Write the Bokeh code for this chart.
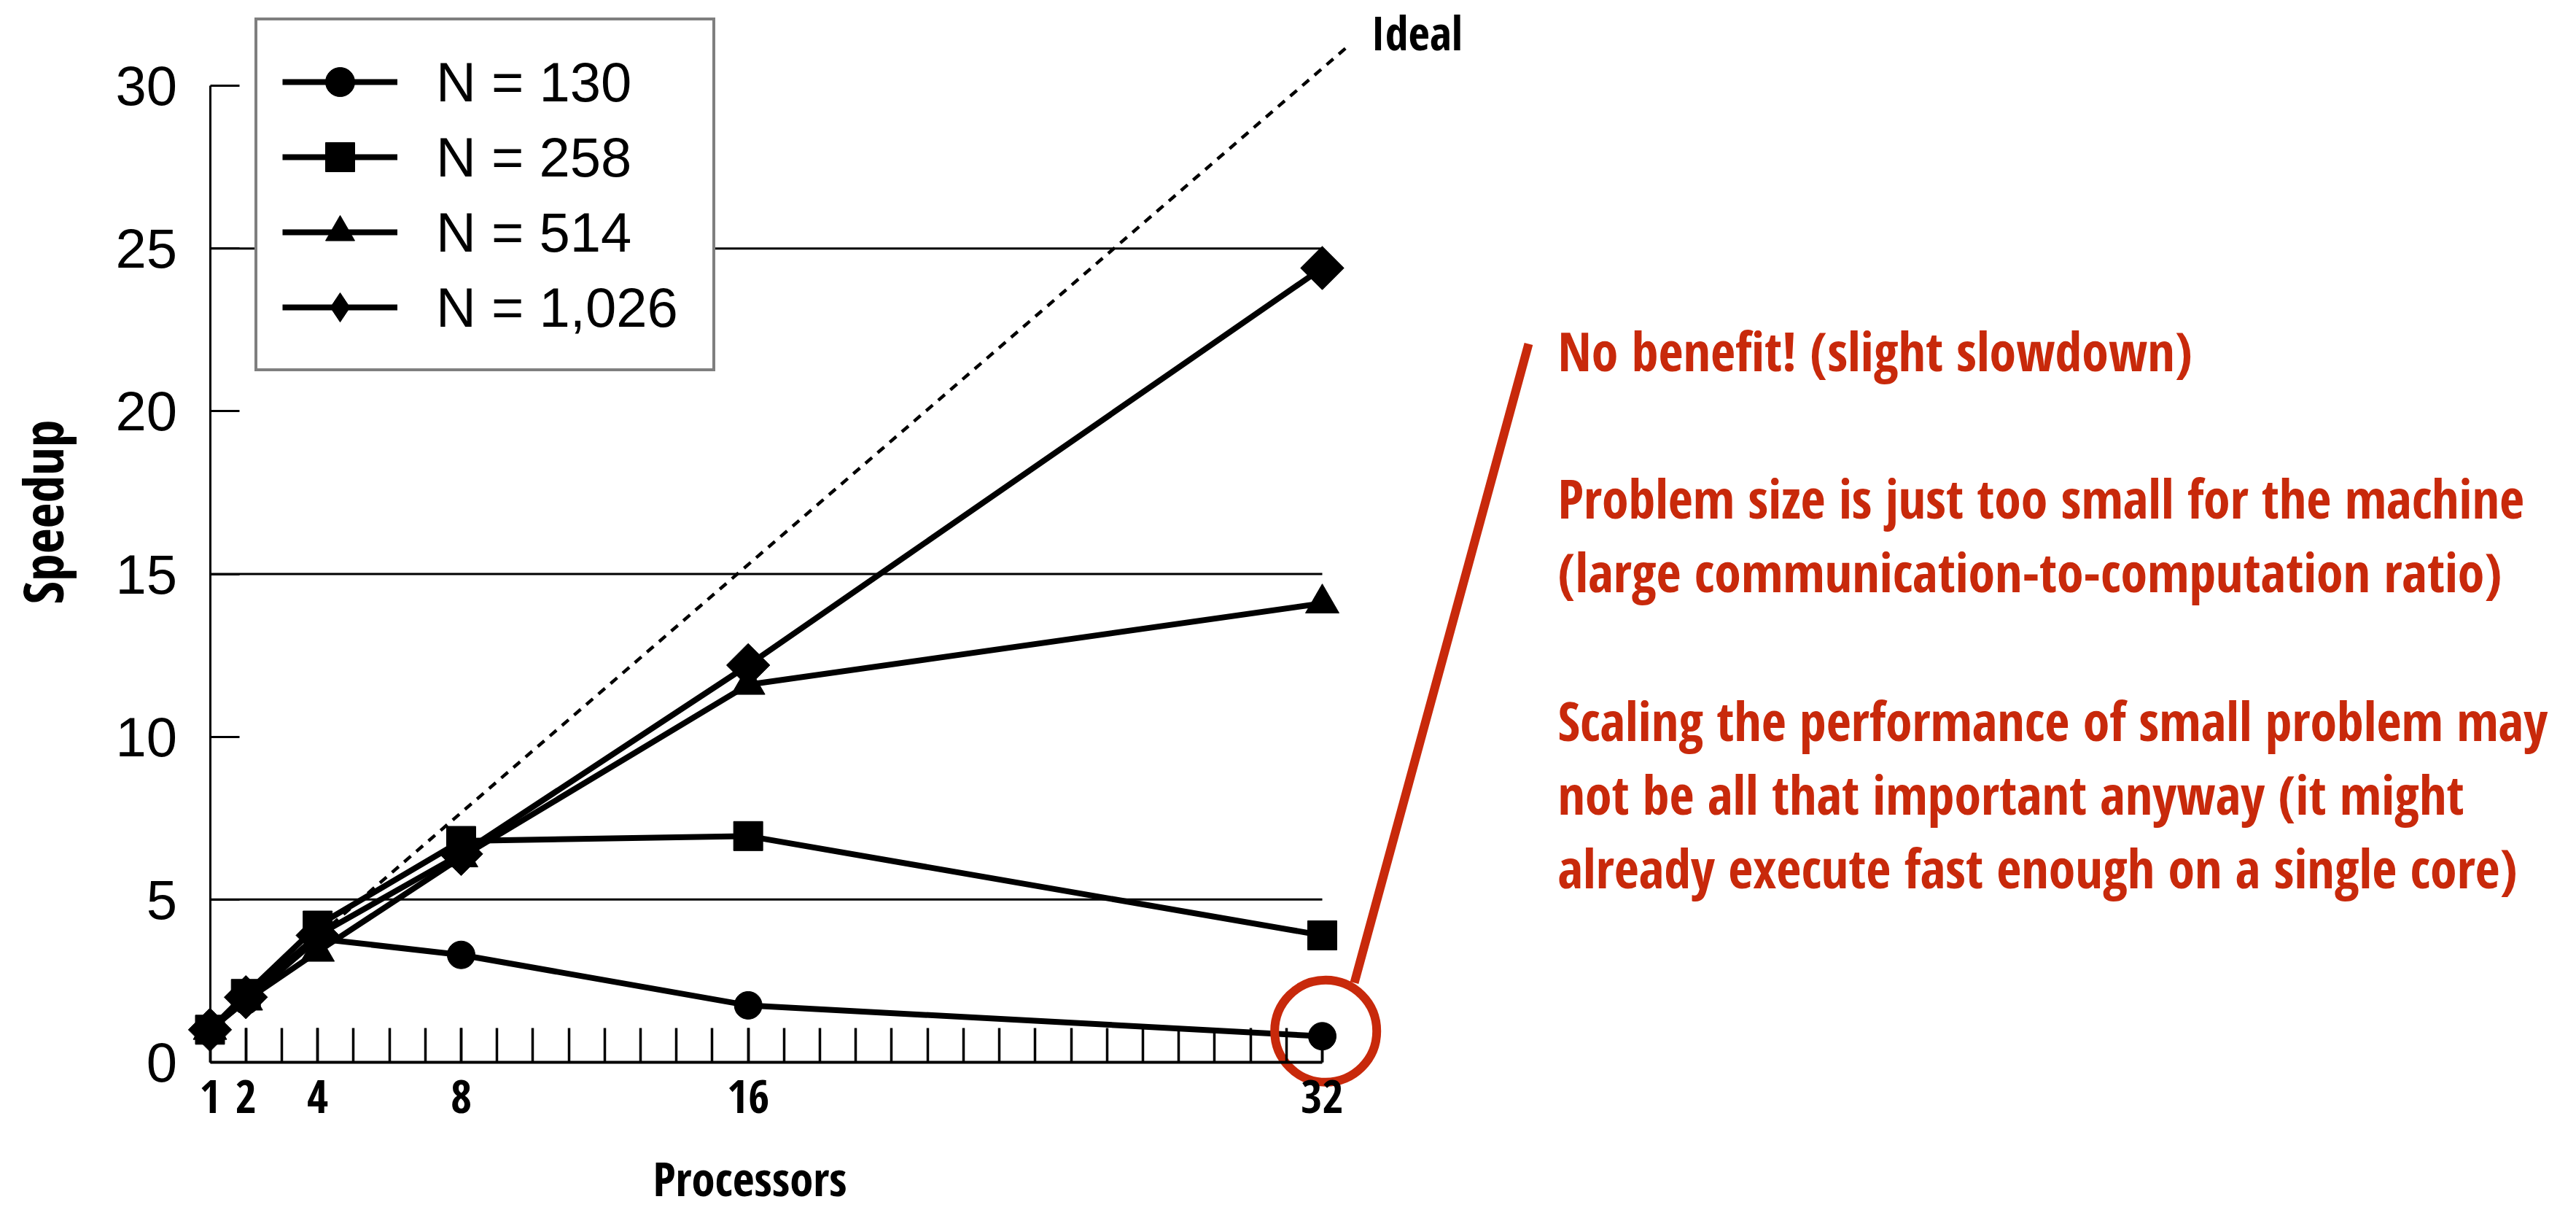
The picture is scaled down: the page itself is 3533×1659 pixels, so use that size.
import numpy as np
from bokeh.plotting import figure
from bokeh.models import Range1d, LinearAxis, FixedTicker, Legend, LegendItem, Label
from bokeh.embed import file_html
from bokeh.resources import INLINE

# ---------------- data ----------------
processors = [1, 2, 4, 8, 16, 32]
speedup_n130 = [1.0, 1.9, 3.8, 3.3, 1.75, 0.8]
speedup_n258 = [1.0, 2.1, 4.2, 6.8, 6.95, 3.9]
speedup_n514 = [1.0, 1.9, 3.4, 6.3, 11.6, 14.1]
speedup_n1026 = [1.0, 2.0, 3.9, 6.4, 12.2, 24.4]
ideal_procs = [1, 32.7]
ideal_speedup = [1.0, 31.2]
series_labels = ["N = 130", "N = 258", "N = 514", "N = 1,026"]
x_tick_values = [1, 2, 4, 8, 16, 32]
x_minor_values = list(range(1, 33))
y_tick_values = [0, 5, 10, 15, 20, 25, 30]
grid_levels = [5, 15, 25]
note_lines = [
    "No benefit! (slight slowdown)",
    "Problem size is just too small for the machine",
    "(large communication-to-computation ratio)",
    "Scaling the performance of small problem may",
    "not be all that important anyway (it might",
    "already execute fast enough on a single core)",
]

# ---------------- geometry ----------------
W, H = 3525, 1659
MARGIN = 0
X1_PAGE = 287.5     # page x of processors = 1
PXX = 49.21         # px per processor
Y0_PAGE = 1456.0    # page y of speedup = 0
PXY = 44.63         # px per speedup unit
BASE_SHIFT = 0.41   # measured baseline offset of the condensed font (in em)


def dx(page_x):
    return 1 + (page_x - X1_PAGE) / PXX


def dy(page_y):
    return (Y0_PAGE - page_y) / PXY


RED = "#c8290b"
COND = "Open Sans Condensed"
ARIAL = "Liberation Sans"

p = figure(width=W, height=H,
           x_range=Range1d(dx(MARGIN), dx(MARGIN + W)),
           y_range=Range1d(dy(MARGIN + H), dy(MARGIN)),
           output_backend="svg", toolbar_location=None,
           x_axis_type=None, y_axis_type=None,
           min_border=0, outline_line_color=None,
           background_fill_color="white", border_fill_color="white")

# axes placed at data locations (inside the frame)
yaxis = LinearAxis(fixed_location=x_tick_values[0], bounds=(y_tick_values[0], y_tick_values[-1]),
                   ticker=FixedTicker(ticks=y_tick_values),
                   major_tick_in=40, major_tick_out=0, minor_tick_in=0, minor_tick_out=0,
                   major_tick_line_width=3, axis_line_width=3,
                   major_label_text_font=ARIAL,
                   major_label_text_font_size="76px",
                   major_label_text_color="black",
                   major_label_standoff=45)
p.add_layout(yaxis, "left")

xaxis = LinearAxis(fixed_location=y_tick_values[0], bounds=(x_tick_values[0], x_tick_values[-1]),
                   ticker=FixedTicker(ticks=x_tick_values, minor_ticks=x_minor_values),
                   major_tick_in=47, major_tick_out=0, minor_tick_in=47, minor_tick_out=0,
                   major_tick_line_width=3.5, minor_tick_line_width=3.5, axis_line_width=4,
                   major_label_text_font=COND, major_label_text_font_style="bold",
                   major_label_text_font_size="63px", major_label_text_color="black",
                   major_label_standoff=24)
p.add_layout(xaxis, "below")

# horizontal reference lines
p.segment(x0=[x_tick_values[0]] * len(grid_levels), y0=grid_levels,
          x1=[x_tick_values[-1]] * len(grid_levels), y1=grid_levels,
          line_color="black", line_width=3)

# ideal line
p.line(ideal_procs, ideal_speedup, line_color="black", line_width=4.5, line_dash="12 10")

series = [speedup_n130, speedup_n258, speedup_n514, speedup_n1026]
markers = ["circle", "square", "triangle", "square"]
legend_markers = ["circle", "square", "triangle", "diamond"]
angles = [0, 0, 0, np.pi / 4]
sizes = [38, 40, 46, 42]
items = []
for vals, lab, mk, lmk, ang, sz in zip(series, series_labels, markers, legend_markers, angles, sizes):
    rl = p.line(processors, vals, line_color="black", line_width=8)
    if lmk != mk:
        # small diamond hidden under the rotated square; used for the legend key
        rk = p.scatter(processors, vals, marker=lmk, size=40,
                       fill_color="black", line_color="black")
    rs = p.scatter(processors, vals, marker=mk, size=sz, angle=ang,
                   fill_color="black", line_color="black")
    items.append(LegendItem(label=lab, renderers=[rl, rs if lmk == mk else rk]))

legend = Legend(items=items, location=(349, H - 509), orientation="vertical",
                glyph_width=158, glyph_height=100, spacing=3, padding=34,
                label_standoff=53, label_width=345,
                label_text_font=ARIAL, label_text_font_size="76px",
                label_text_color="black",
                border_line_color="black", border_line_width=4,
                background_fill_color="white", background_fill_alpha=1.0, margin=0)
p.add_layout(legend)

# red annotation
p.scatter(x=[dx(1817.7)], y=[dy(1413.3)], marker="circle", size=140,
          fill_color=None, line_color=RED, line_width=12)
p.segment(x0=[dx(2096)], y0=[dy(471)], x1=[dx(1857)], y1=[dy(1347)],
          line_color=RED, line_width=12)

NOTE_SIZE = 74
baselines = [510, 712.5, 813, 1017, 1118, 1219.5]
for txt, base in zip(note_lines, baselines):
    p.add_layout(Label(x=dx(2136), y=dy(base - BASE_SHIFT * NOTE_SIZE), text=txt, text_font=COND,
                       text_font_style="bold", text_font_size=f"{NOTE_SIZE}px", text_color=RED,
                       text_align="left", text_baseline="alphabetic"))

p.add_layout(Label(x=dx(1880), y=dy(70 - BASE_SHIFT * 64), text="Ideal", text_font=COND,
                   text_font_style="bold", text_font_size="64px", text_color="black",
                   text_align="left", text_baseline="alphabetic"))
p.add_layout(Label(x=dx(1028), y=dy(1641 - BASE_SHIFT * 65), text="Processors", text_font=COND,
                   text_font_style="bold", text_font_size="65px", text_color="black",
                   text_align="center", text_baseline="alphabetic"))
p.add_layout(Label(x=dx(88 - BASE_SHIFT * 76), y=dy(701.5), text="Speedup", text_font=COND,
                   text_font_style="bold", text_font_size="76px", text_color="black",
                   text_align="center", text_baseline="alphabetic", angle=np.pi / 2))

open("out.html", "w").write(file_html(p, INLINE))
